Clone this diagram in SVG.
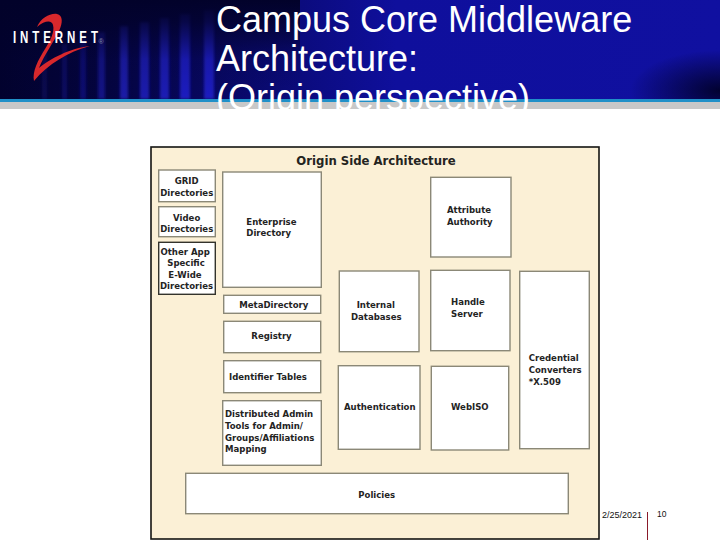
<svg xmlns="http://www.w3.org/2000/svg" width="720" height="540" viewBox="0 0 720 540">
  <style>
    .box { fill: #ffffff; stroke: #8b8877; stroke-width: 1.4; }
    .dark { stroke: #33332c; }
    .t { font-family: "DejaVu Sans", Verdana, sans-serif; font-weight: 700; font-size: 8.55px; fill: #24241f; }
    .m { text-anchor: middle; }
    .title { font-family: "Liberation Sans", Arial, sans-serif; font-size: 36px; fill: #ffffff; }
    .foot { font-family: "Liberation Sans", Arial, sans-serif; font-size: 9px; fill: #111111; }
  </style>
  <defs>
    <linearGradient id="bg" x1="0" y1="0" x2="1" y2="0">
      <stop offset="0" stop-color="#02022e"/>
      <stop offset="0.15" stop-color="#040440"/>
      <stop offset="0.35" stop-color="#09096e"/>
      <stop offset="0.55" stop-color="#0f0f9c"/>
      <stop offset="1" stop-color="#1010a0"/>
    </linearGradient>
    <linearGradient id="topfade" x1="0" y1="0" x2="0" y2="1">
      <stop offset="0" stop-color="#02022a" stop-opacity="1"/>
      <stop offset="0.22" stop-color="#02022a" stop-opacity="0.8"/>
      <stop offset="0.6" stop-color="#02022a" stop-opacity="0.15"/>
      <stop offset="1" stop-color="#02022a" stop-opacity="0"/>
    </linearGradient>
    <radialGradient id="corner" cx="720" cy="90" r="90" gradientUnits="userSpaceOnUse" gradientTransform="translate(0 50) scale(1 0.45)">
      <stop offset="0" stop-color="#01012a" stop-opacity="0.95"/>
      <stop offset="1" stop-color="#01012a" stop-opacity="0"/>
    </radialGradient>
    <filter id="soft" x="-30%" y="-10%" width="160%" height="120%"><feGaussianBlur stdDeviation="1.8"/></filter>
  </defs>

  <rect width="720" height="540" fill="#ffffff"/>

  <g id="header">
    <rect x="0" y="0" width="720" height="99" fill="url(#bg)"/>
    <g filter="url(#soft)" fill="#1f1fc0">
      <rect x="42" y="50" width="5" height="49" opacity="0.2"/>
      <rect x="62" y="44" width="5" height="55" opacity="0.3"/>
      <rect x="80" y="38" width="6" height="61" opacity="0.4"/>
      <rect x="98" y="32" width="7" height="67" opacity="0.55"/>
      <rect x="120" y="26" width="8" height="73" opacity="0.8"/>
      <rect x="140" y="22" width="9" height="77" opacity="0.85"/>
      <rect x="160" y="18" width="9" height="81" opacity="0.9"/>
      <rect x="180" y="14" width="10" height="85"/>
      <rect x="204" y="10" width="10" height="89"/>
    </g>
    <rect x="0" y="0" width="300" height="99" fill="url(#topfade)"/>
    <rect x="600" y="40" width="120" height="59" fill="url(#corner)"/>
    <rect x="0" y="99" width="720" height="3" fill="#2090c8"/>
    <rect x="0" y="102" width="720" height="7" fill="#c8c8c8"/>
    <path d="M37 27 C41 18 50 13 57 14 C63 15 63 23 59 31 C54 42 44 55 39 68 C50 59 70 48 90 46 C68 52 48 64 34 81 C32 72 38 60 45 49 C50 41 55 32 53 25 C52 20 45 20 37 27 Z" fill="#d8282c"/>
    <text transform="translate(13 43) scale(0.72 1)" x="0" y="0" font-family="Liberation Sans, Arial, sans-serif" font-weight="700" font-size="16" fill="#ffffff" textLength="118" lengthAdjust="spacing">INTERNET</text>
    <text x="98.5" y="44" font-family="Liberation Sans, Arial, sans-serif" font-size="7" fill="#8a8aa8">®</text>
  </g>

  <g id="title">
    <text class="title" x="216" y="32">Campus Core Middleware</text>
    <text class="title" x="216" y="71">Architecture:</text>
    <text class="title" x="216" y="110">(Origin perspective)</text>
  </g>

  <g id="panel">
    <rect x="151" y="147" width="448" height="392" fill="#fbf0d6" stroke="#151512" stroke-width="1.6"/>
    <text class="t m" x="376" y="165" style="font-size:11.7px">Origin Side Architecture</text>
  </g>

  <g id="grid-directories">
    <rect class="box" x="158.7" y="170" width="56.6" height="31.7"/>
    <text class="t m" x="186.7" y="184">GRID</text>
    <text class="t m" x="186.7" y="195.5">Directories</text>
  </g>
  <g id="video-directories">
    <rect class="box" x="158.7" y="206.7" width="56.6" height="30"/>
    <text class="t m" x="186.7" y="220.5">Video</text>
    <text class="t m" x="186.7" y="232">Directories</text>
  </g>
  <g id="other-directories">
    <rect class="box dark" x="158.7" y="242.3" width="56.6" height="52"/>
    <text class="t" x="160.5" y="254.5">Other App</text>
    <text class="t" x="167.3" y="266">Specific</text>
    <text class="t" x="168.3" y="277.7">E-Wide</text>
    <text class="t" x="160" y="289.3">Directories</text>
  </g>
  <g id="enterprise-directory">
    <rect class="box" x="222.7" y="172" width="98.6" height="115.3"/>
    <text class="t" x="246.3" y="224.7">Enterprise</text>
    <text class="t" x="246.3" y="236.3">Directory</text>
  </g>
  <g id="metadirectory">
    <rect class="box" x="223.7" y="295.3" width="97" height="18"/>
    <text class="t" x="239.3" y="308">MetaDirectory</text>
  </g>
  <g id="registry">
    <rect class="box" x="223.7" y="321.3" width="97" height="31.4"/>
    <text class="t" x="251.3" y="338.5">Registry</text>
  </g>
  <g id="identifier-tables">
    <rect class="box" x="223.7" y="360.7" width="97" height="32"/>
    <text class="t" x="229" y="379.5">Identifier Tables</text>
  </g>
  <g id="distributed-admin">
    <rect class="box" x="222.7" y="400.7" width="98.6" height="64.6"/>
    <text class="t" x="225" y="417">Distributed Admin</text>
    <text class="t" x="225" y="429">Tools for Admin/</text>
    <text class="t" x="225" y="440.7">Groups/Affiliations</text>
    <text class="t" x="225" y="452.3">Mapping</text>
  </g>
  <g id="internal-databases">
    <rect class="box" x="339.3" y="271" width="79.7" height="80.7"/>
    <text class="t" x="356.7" y="308">Internal</text>
    <text class="t" x="351" y="319.7">Databases</text>
  </g>
  <g id="authentication">
    <rect class="box" x="338.3" y="365.7" width="81.7" height="83.6"/>
    <text class="t" x="344" y="410.3">Authentication</text>
  </g>
  <g id="attribute-authority">
    <rect class="box" x="430.7" y="177.3" width="80.3" height="79.7"/>
    <text class="t" x="447" y="213">Attribute</text>
    <text class="t" x="447" y="224.7">Authority</text>
  </g>
  <g id="handle-server">
    <rect class="box" x="430.7" y="270.3" width="79.3" height="80.4"/>
    <text class="t" x="451" y="305">Handle</text>
    <text class="t" x="451" y="316.7">Server</text>
  </g>
  <g id="webiso">
    <rect class="box" x="431.3" y="366.3" width="77.4" height="83.7"/>
    <text class="t" x="451" y="410.3">WebISO</text>
  </g>
  <g id="credential-converters">
    <rect class="box" x="519.7" y="271.3" width="69.6" height="177.4"/>
    <text class="t" x="528.7" y="361.3">Credential</text>
    <text class="t" x="528.7" y="373">Converters</text>
    <text class="t" x="528.7" y="384.7">*X.509</text>
  </g>
  <g id="policies">
    <rect class="box" x="185.7" y="473.3" width="382.6" height="40.4"/>
    <text class="t" x="358.3" y="497.7">Policies</text>
  </g>

  <g id="footer">
    <text class="foot" x="602" y="518">2/25/2021</text>
    <rect x="647" y="512" width="1" height="28" fill="#8a1a2a"/>
    <text class="foot" x="657" y="517" style="font-size:8.5px">10</text>
  </g>
</svg>
